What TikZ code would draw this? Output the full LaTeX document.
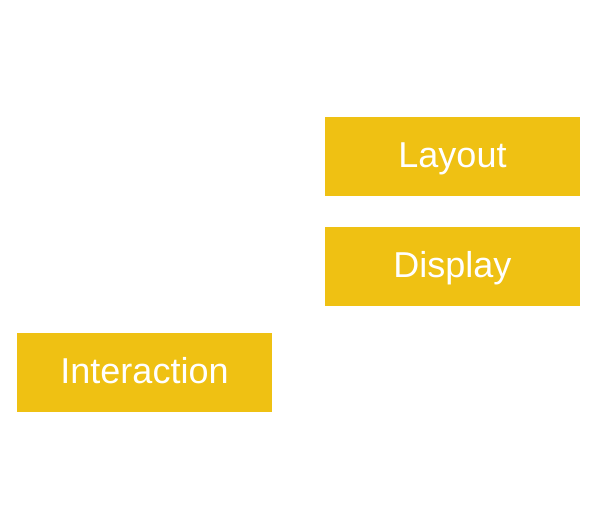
\documentclass[tikz,border=0pt]{standalone}
\usepackage{fontspec}
\setmainfont{Liberation Sans}
\definecolor{boxgold}{HTML}{EFC113}
\begin{document}
\begin{tikzpicture}[x=1bp,y=-1bp,
  stagebox/.style={fill=boxgold,draw=none,minimum width=255bp,minimum height=79bp,
    inner sep=0pt,text height=21.2bp,text depth=0pt,text=white,
    font=\fontsize{36bp}{40bp}\selectfont},
  header/.style={text=white,inner sep=0pt,text height=21.2bp,text depth=0pt,
    font=\fontsize{36bp}{40bp}\selectfont}]
  \useasboundingbox[fill=white] (0,0) rectangle (605,506);
  % column headers
  \node[header] (main) at (147,47) {Main};
  \node[header] (rc) at (454,47) {RC};
  % stages
  \node[stagebox] (layout) at (452.5,156.7) {Layout};
  \node[stagebox] (display) at (452.5,266.7) {Display};
  \node[stagebox] (interaction) at (144.5,372.7) {Interaction};
\end{tikzpicture}
\end{document}
